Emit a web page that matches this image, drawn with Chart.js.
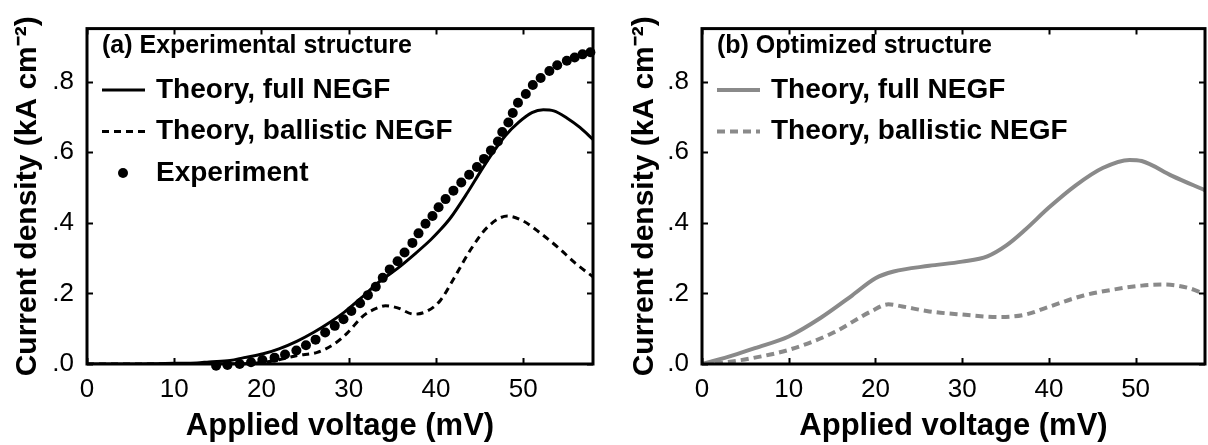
<!DOCTYPE html>
<html>
<head>
<meta charset="utf-8">
<script src="https://cdn.jsdelivr.net/npm/chart.js@4.4.0/dist/chart.umd.min.js"></script>
<style>
  html, body { margin: 0; padding: 0; background: #fff; }
  #wrap { position: relative; width: 1208px; height: 445px; }
  #wrap canvas { position: absolute; top: 0; }
</style>
</head>
<body>
<div id="wrap">
  <canvas id="panelA" width="604" height="445" style="left:0"></canvas>
  <canvas id="panelB" width="604" height="445" style="left:604px"></canvas>
</div>
<script>
// (a) experimental structure
const aFullV = [0, 5, 8, 10, 12.6, 14, 16.4, 18, 20.2, 22, 24.1, 26, 27.9, 29.5, 31.7, 33.5, 35.6, 37.5, 39.4, 40.5, 41.7, 43.6, 45.1, 46.5, 48, 49.5, 51, 52.3, 53.5, 55, 56.5, 58];
const aFullJ = [0, 0, 0.001, 0.002, 0.003, 0.006, 0.010, 0.018, 0.029, 0.043, 0.065, 0.090, 0.119, 0.147, 0.193, 0.233, 0.271, 0.310, 0.352, 0.380, 0.415, 0.485, 0.545, 0.598, 0.648, 0.685, 0.712, 0.720, 0.717, 0.697, 0.670, 0.636];

const aBallV = [0, 10, 18, 20, 22, 24.1, 26.4, 28.3, 29.8, 31.7, 33.3, 34.2, 35.6, 37.5, 39.0, 40.5, 42, 44, 46, 48.2, 50, 52, 54, 56, 58];
const aBallJ = [0, 0, 0.001, 0.004, 0.012, 0.024, 0.033, 0.056, 0.087, 0.137, 0.159, 0.165, 0.159, 0.141, 0.150, 0.180, 0.240, 0.325, 0.390, 0.419, 0.405, 0.370, 0.330, 0.285, 0.247];

const aExpV = [14.8, 16.1, 17.5, 18.8, 20.1, 21.5, 22.7, 24.0, 25.1, 26.2, 27.3, 28.4, 29.4, 30.3, 31.3, 32.2, 33.1, 33.9, 34.7, 35.6, 36.4, 37.3, 38.0, 38.8, 39.6, 40.3, 41.1, 42.0, 42.9, 43.8, 44.7, 45.5, 46.3, 47.1, 47.6, 48.3, 48.8, 49.4, 50.3, 51.1, 52.0, 53.0, 53.9, 55.0, 55.9, 56.8, 57.7];
const aExpJ = [-0.005, -0.003, 0, 0.005, 0.011, 0.018, 0.027, 0.038, 0.053, 0.069, 0.089, 0.108, 0.127, 0.150, 0.172, 0.195, 0.219, 0.244, 0.268, 0.291, 0.316, 0.343, 0.370, 0.397, 0.419, 0.444, 0.467, 0.491, 0.514, 0.536, 0.558, 0.581, 0.605, 0.630, 0.657, 0.684, 0.711, 0.740, 0.765, 0.790, 0.810, 0.830, 0.846, 0.859, 0.868, 0.877, 0.883];

// (b) optimized structure
const bFullV = [0, 3, 6.1, 10, 13.7, 17.3, 20, 22.1, 26.2, 30, 32.9, 35.1, 37.3, 40, 43.1, 46.2, 49.3, 50.7, 54.2, 58];
const bFullJ = [0, 0.020, 0.045, 0.078, 0.131, 0.194, 0.243, 0.262, 0.278, 0.290, 0.305, 0.336, 0.381, 0.443, 0.506, 0.555, 0.578, 0.575, 0.533, 0.492];

const bBallV = [0, 3, 6.1, 10, 15, 19.5, 21.5, 23.1, 26.2, 30, 34.2, 37.3, 40, 44, 47.5, 50.7, 53.3, 56, 58];
const bBallJ = [0, 0.006, 0.018, 0.040, 0.087, 0.149, 0.169, 0.163, 0.149, 0.140, 0.133, 0.140, 0.162, 0.194, 0.211, 0.222, 0.225, 0.216, 0.198];

const xTicksStep = 10;
const yTicksStep = 0.2;

const FONT = "'Liberation Sans', Arial, Helvetica, sans-serif";
Chart.defaults.font.family = FONT;
Chart.defaults.color = "#000";

function pts(xs, ys) {
    return xs.map((x, i) => ({ x: x, y: ys[i] }));
}

// box frame with ticks pointing inwards on all four sides
const frameTicks = {
    id: "frameTicks",
    afterDraw(chart) {
        const { ctx, chartArea: a, scales } = chart;
        ctx.save();
        ctx.strokeStyle = "#000";
        ctx.lineWidth = 2;
        scales.x.ticks.forEach(t => {
            const px = Math.round(scales.x.getPixelForValue(t.value)) + 0.5;
            ctx.beginPath();
            ctx.moveTo(px, a.bottom); ctx.lineTo(px, a.bottom - 6);
            ctx.moveTo(px, a.top); ctx.lineTo(px, a.top + 6);
            ctx.stroke();
        });
        scales.y.ticks.forEach(t => {
            const py = Math.round(scales.y.getPixelForValue(t.value)) + 0.5;
            ctx.beginPath();
            ctx.moveTo(a.left, py); ctx.lineTo(a.left + 6, py);
            ctx.moveTo(a.right, py); ctx.lineTo(a.right - 6, py);
            ctx.stroke();
        });
        ctx.lineWidth = 3;
        ctx.strokeRect(a.left, a.top, a.right - a.left, a.bottom - a.top);
        ctx.restore();
    }
};

// legend drawn inside the plot area, top left
const insideLegend = {
    id: "insideLegend",
    afterDraw(chart, args, o) {
        const ctx = chart.ctx;
        const left = chart.chartArea.left;
        ctx.save();
        ctx.textAlign = "left";
        ctx.textBaseline = "middle";
        ctx.fillStyle = "#000";
        ctx.font = "bold 25px " + FONT;
        ctx.fillText(o.header, left + 15, o.headerY);
        ctx.font = "bold 28px " + FONT;
        chart.data.datasets.forEach((ds, i) => {
            const y = o.firstY + i * o.rowGap;
            if (ds.showLine) {
                ctx.strokeStyle = ds.borderColor;
                ctx.lineWidth = ds.borderWidth;
                ctx.setLineDash(ds.borderDash || []);
                ctx.beginPath();
                ctx.moveTo(left + 15, y);
                ctx.lineTo(left + 15 + o.sampleLen, y);
                ctx.stroke();
                ctx.setLineDash([]);
            } else {
                ctx.fillStyle = ds.pointBackgroundColor;
                ctx.beginPath();
                ctx.arc(left + 36, y, ds.pointRadius, 0, Math.PI * 2);
                ctx.fill();
            }
            ctx.fillStyle = "#000";
            ctx.fillText(ds.label, left + 69, y);
        });
        ctx.restore();
    }
};

function criarPainel(canvasId, datasets, cfg) {
    const ctx = document.getElementById(canvasId).getContext("2d");
    return new Chart(ctx, {
        type: "scatter",
        data: { datasets: datasets },
        plugins: [frameTicks, insideLegend],
        options: {
            responsive: false,
            animation: false,
            devicePixelRatio: 1,
            layout: { padding: { left: 0, top: 12, right: cfg.rightPad, bottom: 0 } },
            plugins: {
                legend: { display: false },
                tooltip: { enabled: false },
                insideLegend: {
                    header: cfg.header,
                    headerY: 46,
                    firstY: 90,
                    rowGap: 41.5,
                    sampleLen: 43
                }
            },
            scales: {
                x: {
                    type: "linear",
                    min: 0,
                    max: 58,
                    afterFit: s => { s.height = 81; },
                    ticks: {
                        stepSize: xTicksStep,
                        includeBounds: false,
                        padding: 10,
                        maxRotation: 0,
                        font: { size: 26 }
                    },
                    grid: { display: false, drawTicks: false },
                    border: { display: false },
                    title: {
                        display: true,
                        text: "Applied voltage (mV)",
                        font: { size: 31, weight: "bold" },
                        padding: { top: 0, bottom: 0 }
                    }
                },
                y: {
                    min: 0,
                    max: 0.95,
                    afterFit: s => { s.width = cfg.axisWidth; },
                    ticks: {
                        stepSize: yTicksStep,
                        includeBounds: false,
                        padding: 13,
                        font: { size: 26 },
                        callback: v => v.toFixed(1).replace(/^0/, "")
                    },
                    grid: { display: false, drawTicks: false },
                    border: { display: false },
                    title: {
                        display: true,
                        text: "Current density (kA cm\u207B\u00B2)",
                        font: { size: 30, weight: "bold" },
                        padding: { top: cfg.titlePad, bottom: 0 }
                    }
                }
            }
        }
    });
}

const black = "#000000";
const gray = "#8a8a8a";

criarPainel("panelA", [
    {
        label: "Theory, full NEGF",
        data: pts(aFullV, aFullJ),
        showLine: true,
        borderColor: black,
        borderWidth: 3,
        pointRadius: 0,
        cubicInterpolationMode: "monotone",
        order: 2
    },
    {
        label: "Theory, ballistic NEGF",
        data: pts(aBallV, aBallJ),
        showLine: true,
        borderColor: black,
        borderWidth: 3,
        borderDash: [7, 5],
        pointRadius: 0,
        cubicInterpolationMode: "monotone",
        order: 3
    },
    {
        label: "Experiment",
        data: pts(aExpV, aExpJ),
        showLine: false,
        pointRadius: 5,
        pointBackgroundColor: black,
        pointBorderWidth: 0,
        clip: false,
        order: 1
    }
], { header: "(a) Experimental structure", axisWidth: 87, rightPad: 11, titlePad: 10 });

criarPainel("panelB", [
    {
        label: "Theory, full NEGF",
        data: pts(bFullV, bFullJ),
        showLine: true,
        borderColor: gray,
        borderWidth: 4,
        pointRadius: 0,
        cubicInterpolationMode: "monotone"
    },
    {
        label: "Theory, ballistic NEGF",
        data: pts(bBallV, bBallJ),
        showLine: true,
        borderColor: gray,
        borderWidth: 4,
        borderDash: [8, 5],
        pointRadius: 0,
        cubicInterpolationMode: "monotone"
    }
], { header: "(b) Optimized structure", axisWidth: 98, rightPad: 3, titlePad: 23 });
</script>
</body>
</html>
